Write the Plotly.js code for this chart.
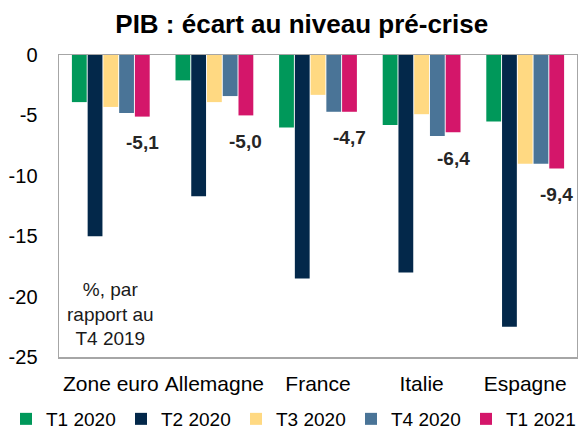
<!DOCTYPE html>
<html>
<head>
<meta charset="utf-8">
<script src="https://cdn.plot.ly/plotly-3.0.1.min.js"></script>
<style>html,body{margin:0;padding:0;background:#fff;}#chart{width:578px;height:434px;}</style>
</head>
<body>
<div id="chart"></div>
<script>
const categories = ["Zone euro", "Allemagne", "France", "Italie", "Espagne"];
const seriesNames = ["T1 2020", "T2 2020", "T3 2020", "T4 2020", "T1 2021"];
const t1_2020 = [-3.9, -2.1, -6.0, -5.8, -5.5];
const t2_2020 = [-15.0, -11.7, -18.5, -18.0, -22.5];
const t3_2020 = [-4.3, -3.9, -3.3, -4.9, -9.0];
const t4_2020 = [-4.8, -3.4, -4.7, -6.7, -9.0];
const t1_2021 = [-5.1, -5.0, -4.7, -6.4, -9.4];
const lastLabels = ["-5,1", "-5,0", "-4,7", "-6,4", "-9,4"];
const yTicks = [0, -5, -10, -15, -20, -25];
const noteText = "%, par<br>rapport au<br>T4 2019";

const colors = ["#00985A", "#03284A", "#FFD982", "#4A7497", "#D4166A"];
const allSeries = [t1_2020, t2_2020, t3_2020, t4_2020, t1_2021];
const bargap = 0.24, bargroupgap = 0.06;
const font = "Liberation Sans, Arial, sans-serif";

const W = 578, H = 434;
const M = {l: 59, r: 1, t: 55, b: 77, autoexpand: false};
const plotW = W - M.l - M.r, plotH = H - M.t - M.b;

const traces = allSeries.map((vals, i) => ({
  type: "bar",
  name: seriesNames[i],
  x: categories,
  y: vals,
  marker: {color: colors[i], line: {width: 0}},
  hoverinfo: "none"
}));

// position of the last bar within each group, derived from bar layout
const nS = allSeries.length;
const lastOffset = -(1 - bargap) / 2 + (1 - bargap) / nS * (nS - 0.5);
const annotations = categories.map((c, i) => ({
  xref: "x", yref: "y",
  x: i + lastOffset, y: t1_2021[i],
  text: "<b>" + lastLabels[i] + "</b>",
  showarrow: false,
  yanchor: "middle",
  yshift: -26,
  font: {family: font, size: 19, color: "#262626"}
}));
annotations.push({
  xref: "x", yref: "y",
  x: 0, y: -21.4,
  text: noteText,
  showarrow: false,
  align: "center",
  font: {family: font, size: 19, color: "#1a1a1a"}
});

const layout = {
  width: W, height: H,
  margin: M,
  paper_bgcolor: "#fff", plot_bgcolor: "#fff",
  font: {family: font, color: "#000"},
  title: {
    text: "<b>PIB : écart au niveau pré-crise</b>",
    font: {family: font, size: 26, color: "#000"},
    x: 0.522, xanchor: "center",
    y: 1 - 24 / H, yref: "container", yanchor: "middle"
  },
  barmode: "group",
  bargap: bargap, bargroupgap: bargroupgap,
  xaxis: {
    type: "category",
    showline: true, mirror: true, linecolor: "#A6A6A6", linewidth: 1.5,
    ticks: "", showgrid: false,
    tickfont: {family: font, size: 21, color: "#000"},
    ticklabelstandoff: 7
  },
  yaxis: {
    range: [-25, 0],
    tickvals: yTicks,
    ticktext: yTicks.map(String),
    showline: true, mirror: true, linecolor: "#A6A6A6", linewidth: 1.5,
    ticks: "", showgrid: false, zeroline: false,
    tickfont: {family: font, size: 20, color: "#000"},
    ticklabelstandoff: 16
  },
  showlegend: true,
  legend: {
    orientation: "h",
    xref: "paper", yref: "paper",
    x: (6 - M.l) / plotW, xanchor: "left",
    y: (H - M.b - 419) / plotH, yanchor: "middle",
    font: {family: font, size: 19, color: "#000"},
    itemwidth: 30,
    entrywidth: 70, entrywidthmode: "pixels",
    traceorder: "normal"
  },
  annotations: annotations
};

Plotly.newPlot("chart", traces, layout, {displayModeBar: false, staticPlot: true});
</script>
</body>
</html>
